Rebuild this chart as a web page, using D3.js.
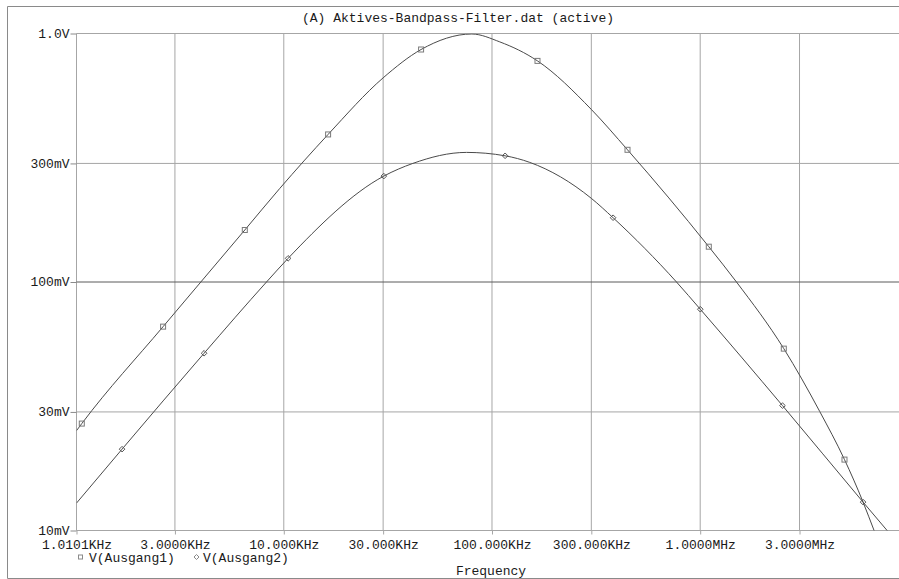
<!DOCTYPE html>
<html>
<head>
<meta charset="utf-8">
<script src="https://cdn.jsdelivr.net/npm/d3@7/dist/d3.min.js"></script>
<style>
  html, body { margin: 0; padding: 0; background: #fff; }
  svg { display: block; }
  text { font-family: "Liberation Mono", "DejaVu Sans Mono", monospace; font-size: 13px; fill: #1a1a1a; }
</style>
</head>
<body>
<svg id="chart" width="899" height="579"></svg>
<script>
// Frequency sweep of the active band-pass filter (PSpice probe export)
const titleText = "(A) Aktives-Bandpass-Filter.dat (active)";
const xLabel = "Frequency";

// Axis ticks
const freqTicks = [1010.1, 3000, 10000, 30000, 100000, 300000, 1000000, 3000000];
const freqTickLabels = ["1.0101KHz", "3.0000KHz", "10.000KHz", "30.000KHz", "100.000KHz", "300.000KHz", "1.0000MHz", "3.0000MHz"];
const voltTicks = [0.01, 0.03, 0.1, 0.3, 1.0];
const voltTickLabels = ["10mV", "30mV", "100mV", "300mV", "1.0V"];

// V(Ausgang1): frequency [Hz] and amplitude [V]
const freq1 = [1010.1, 1071, 2632, 3995, 6497, 9567, 16323, 30000, 45648, 79990, 109000, 165400, 300000, 447600, 1099800, 1494000, 2521000, 3753000, 4933000, 6058000, 6843000, 7370000];
const volt1 = [0.02522, 0.02693, 0.06613, 0.1000, 0.1619, 0.2380, 0.3925, 0.6630, 0.8622, 0.9954, 0.9252, 0.7758, 0.4948, 0.3404, 0.1387, 0.1000, 0.05393, 0.0301, 0.01929, 0.01301, 0.0100, 0.00854];
const marks1 = [1, 2, 4, 6, 8, 11, 13, 14, 16, 18];

// V(Ausgang2): frequency [Hz] and amplitude [V]
const freq2 = [1010.1, 1672, 4142, 8259, 10487, 30232, 41650, 75430, 115600, 151900, 300000, 381600, 769500, 1001100, 2485000, 6058000, 7903000, 8604000];
const volt2 = [0.01289, 0.02125, 0.05168, 0.1000, 0.1245, 0.2668, 0.3000, 0.3323, 0.3220, 0.3029, 0.2171, 0.1814, 0.1000, 0.0777, 0.03181, 0.01301, 0.0100, 0.00919];
const marks2 = [1, 2, 4, 5, 8, 11, 13, 14, 15];

const legendNames = ["V(Ausgang1)", "V(Ausgang2)"];

const svg = d3.select("#chart");
const W = 899, H = 579;
const plot = { left: 76.5, top: 33.5, bottom: 530.5, decade: 208.2 };
plot.right = plot.left + plot.decade * Math.log10(1e7 / 1010.1);

const x = d3.scaleLog().domain([1010.1, 1e7]).range([plot.left, plot.right]);
const y = d3.scaleLog().domain([0.01, 1]).range([plot.bottom, plot.top]);

// outer frame (right edge lies outside the window)
svg.append("path")
  .attr("d", `M${W + 5},6.5 H7.5 V578.5 H${W + 5}`)
  .attr("fill", "none").attr("stroke", "#8a8a8a").attr("stroke-width", 1);

// title
svg.append("text").attr("x", 458).attr("y", 22).attr("text-anchor", "middle").text(titleText);

// grid
const grid = svg.append("g");
grid.selectAll("line.vx").data(freqTicks).join("line")
  .attr("x1", d => x(d)).attr("x2", d => x(d))
  .attr("y1", plot.top).attr("y2", plot.bottom)
  .attr("stroke", "#a6a6a6").attr("stroke-width", 1);
grid.selectAll("line.hy").data(voltTicks).join("line")
  .attr("x1", plot.left).attr("x2", plot.right)
  .attr("y1", d => y(d)).attr("y2", d => y(d))
  .attr("stroke", d => d === 0.1 ? "#5a5a5a" : "#a6a6a6").attr("stroke-width", 1);

// axes
const xAxis = d3.axisBottom(x).tickValues(freqTicks)
  .tickFormat((d, i) => freqTickLabels[i]).tickSize(4).tickPadding(5);
svg.append("g").attr("transform", `translate(0,${plot.bottom})`).call(xAxis)
  .call(g => g.select(".domain").remove())
  .call(g => g.selectAll(".tick line").attr("stroke", "#a6a6a6"))
  .call(g => g.selectAll(".tick text").attr("fill", "#1a1a1a").attr("font-size", 13)
    .attr("font-family", "Liberation Mono, monospace"));

const yAxis = d3.axisLeft(y).tickValues(voltTicks)
  .tickFormat((d, i) => voltTickLabels[i]).tickSize(6).tickPadding(1);
svg.append("g").attr("transform", `translate(${plot.left},0)`).call(yAxis)
  .call(g => g.select(".domain").remove())
  .call(g => g.selectAll(".tick line").attr("stroke", "#8a8a8a"))
  .call(g => g.selectAll(".tick text").attr("fill", "#1a1a1a").attr("font-size", 13)
    .attr("font-family", "Liberation Mono, monospace").attr("dy", "0.28em"));

// clip region for the traces
svg.append("clipPath").attr("id", "plotClip").append("rect")
  .attr("x", plot.left).attr("y", plot.top)
  .attr("width", plot.right - plot.left).attr("height", plot.bottom - plot.top);

// traces are interpolated as functions of the (log) frequency axis
const line = d3.line().x(d => x(d[0])).y(d => y(d[1])).curve(d3.curveMonotoneX);
const series1 = freq1.map((f, i) => [f, volt1[i]]);
const series2 = freq2.map((f, i) => [f, volt2[i]]);

const traces = svg.append("g").attr("clip-path", "url(#plotClip)");
traces.append("path").datum(series1).attr("d", line)
  .attr("fill", "none").attr("stroke", "#4a4a4a").attr("stroke-width", 1);
traces.append("path").datum(series2).attr("d", line)
  .attr("fill", "none").attr("stroke", "#4a4a4a").attr("stroke-width", 1);

// markers
const sq = 5;
traces.selectAll("rect.m1").data(marks1.map(i => series1[i])).join("rect")
  .attr("x", d => x(d[0]) - sq / 2).attr("y", d => y(d[1]) - sq / 2)
  .attr("width", sq).attr("height", sq)
  .attr("fill", "none").attr("stroke", "#7a7a7a").attr("stroke-width", 1);
const dm = 2.8;
traces.selectAll("path.m2").data(marks2.map(i => series2[i])).join("path")
  .attr("d", d => {
    const cx = x(d[0]), cy = y(d[1]);
    return `M${cx},${cy - dm}L${cx + dm},${cy}L${cx},${cy + dm}L${cx - dm},${cy}Z`;
  })
  .attr("fill", "none").attr("stroke", "#555").attr("stroke-width", 1);

// legend
const lg = svg.append("g");
lg.append("rect").attr("x", 78.5).attr("y", 555).attr("width", 4).attr("height", 4)
  .attr("fill", "none").attr("stroke", "#8a8a8a").attr("stroke-width", 1);
lg.append("text").attr("x", 89).attr("y", 562).text(legendNames[0]);
lg.append("path").attr("d", "M196.5,554.5L199,557L196.5,559.5L194,557Z")
  .attr("fill", "none").attr("stroke", "#8a8a8a").attr("stroke-width", 1);
lg.append("text").attr("x", 203).attr("y", 562).text(legendNames[1]);

// x-axis title
svg.append("text").attr("x", 491).attr("y", 575).attr("text-anchor", "middle").text(xLabel);
</script>
</body>
</html>
